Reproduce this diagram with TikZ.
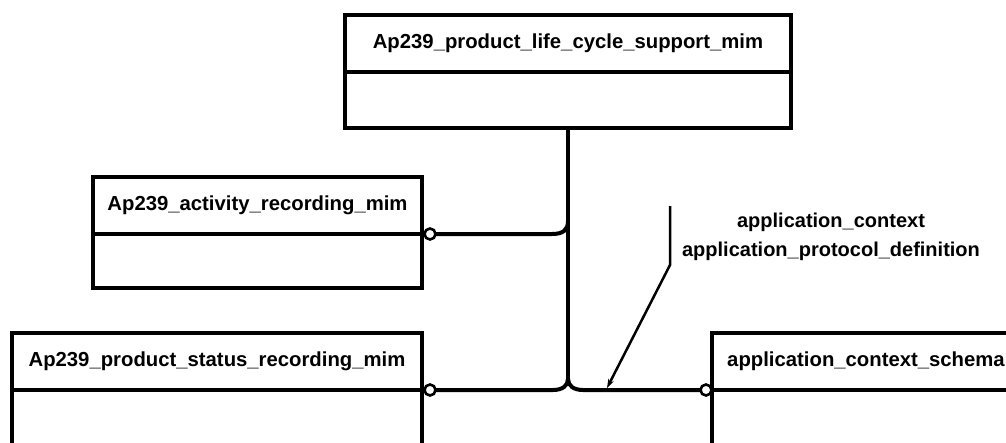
\documentclass[tikz,border=0pt]{standalone}
\usepackage{fontspec}
\setmainfont{Liberation Sans}
\usetikzlibrary{arrows.meta}
\tikzset{
  boxpart/.style={draw=black, line width=4pt, fill=white, inner sep=0pt, outer sep=0pt, rectangle},
  hdr/.style={boxpart, font=\bfseries\fontsize{20.3}{24}\selectfont},
  ring/.style={circle, draw=black, line width=2.6pt, fill=white, minimum size=11pt, inner sep=0pt, outer sep=0pt},
  conn/.style={line width=4pt, black},
  note/.style={line width=2.5pt, black},
  lbl/.style={font=\bfseries\fontsize{20}{29}\selectfont, align=center, inner sep=0pt}
}
\begin{document}
\begin{tikzpicture}[x=1pt, y=-1pt]
\useasboundingbox (0,0) rectangle (1006,442);
\fill[white] (0,0) rectangle (1006,442);
\clip (0,0) rectangle (1006,442);

% top box
\node[hdr, minimum width=446pt, minimum height=57pt] (topH) at (568,43.5) {Ap239\_product\_life\_cycle\_support\_mim};
\node[boxpart, minimum width=446pt, minimum height=56pt] (topB) at (568,100) {};

% activity box
\node[hdr, minimum width=329pt, minimum height=57pt] (actH) at (257.5,205.5) {Ap239\_activity\_recording\_mim};
\node[boxpart, minimum width=329pt, minimum height=54pt] (actB) at (257.5,261) {};

% status box
\node[hdr, minimum width=410pt, minimum height=57pt] (statH) at (217,361.5) {Ap239\_product\_status\_recording\_mim};
\node[boxpart, minimum width=410pt, minimum height=56pt] (statB) at (217,418) {};

% context schema box
\node[hdr, minimum width=308pt, minimum height=57pt] (ctxH) at (866,361.5) {application\_context\_schema};
\node[boxpart, minimum width=308pt, minimum height=56pt] (ctxB) at (866,418) {};

% rings
\node[ring] (cact) at (430,234) {};
\node[ring] (cstat) at (430,390) {};
\node[ring] (cctx) at (706,390) {};

% junctions
\coordinate (j1) at (568,221);
\coordinate (j2) at (568,379);

\draw[conn] (topB.south) -- (j2);
\draw[conn] (cact.east) -- (552,234) .. controls (563,234) and (568,230) .. (j1);
\draw[conn] (cstat.east) -- (553,390) .. controls (562,390) and (568,386) .. (j2);
\draw[conn] (j2) .. controls (568,386) and (574,390) .. (583,390) -- (cctx.west);

% annotation
\node[lbl] (lab) at (831,237) {application\_context\\application\_protocol\_definition};
\coordinate (a0) at (670,206);
\coordinate (a1) at (670,265);
\coordinate (a2) at (607,388);
\draw[note, -{Stealth[length=9pt, width=6pt]}] (a0) -- (a1) -- (a2);
\end{tikzpicture}
\end{document}
